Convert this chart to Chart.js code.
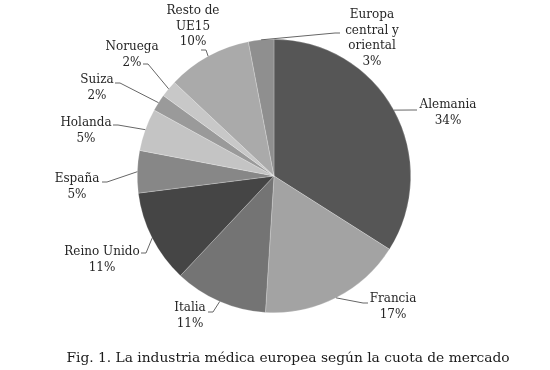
<!DOCTYPE html>
<html>
<head>
<meta charset="utf-8">
<script src="https://cdn.jsdelivr.net/npm/chart.js@4.4.1/dist/chart.umd.min.js"></script>
<style>
  body { margin: 0; background: #fff; }
  #wrap { width: 550px; height: 370px; }
</style>
</head>
<body>
<div id="wrap"><canvas id="pie_chart1"></canvas></div>
<script>
// ข้อมูล
const paises = ['Alemania', 'Francia', 'Italia', 'Reino Unido', 'España', 'Holanda', 'Suiza', 'Noruega', 'Resto de UE15', 'Europa central y oriental'];
const cuotas = [34, 17, 11, 11, 5, 5, 2, 2, 10, 3];
const lineasEtiqueta = [['Alemania'], ['Francia'], ['Italia'], ['Reino Unido'], ['España'], ['Holanda'], ['Suiza'], ['Noruega'], ['Resto de', 'UE15'], ['Europa', 'central y', 'oriental']];
const titulo = 'Fig. 1. La industria médica europea según la cuota de mercado';

// estilo
const colores = ['#565656', '#a3a3a3', '#747474', '#454545', '#878787', '#c4c4c4', '#9a9a9a', '#c8c8c8', '#aaaaaa', '#8f8f8f'];
// posición del texto (centro x, primera línea y) y extremo de la línea guía
const posEtiqueta = [
  { tx: 448, ty: 105, ex: 417, ey: 110, dir: 1 },
  { tx: 393, ty: 299, ex: 368, ey: 303, dir: 1 },
  { tx: 190, ty: 308, ex: 208, ey: 312, dir: -1 },
  { tx: 102, ty: 252, ex: 141, ey: 253, dir: -1 },
  { tx: 77,  ty: 179, ex: 102, ey: 182, dir: -1 },
  { tx: 86,  ty: 123, ex: 113, ey: 125, dir: -1 },
  { tx: 97,  ty: 80,  ex: 115, ey: 83,  dir: -1 },
  { tx: 132, ty: 47,  ex: 143, ey: 64,  dir: -1 },
  { tx: 193, ty: 11,  ex: 201, ey: 50,  dir: -1 },
  { tx: 372, ty: 15,  ex: 340, ey: 33,  dir: 1 }
];
const fuente = "'DejaVu Serif', serif";

const etiquetasPlugin = {
  id: 'etiquetas',
  afterDraw(chart) {
    const ctx = chart.ctx;
    const meta = chart.getDatasetMeta(0);
    ctx.save();
    meta.data.forEach((arc, i) => {
      const p = posEtiqueta[i];
      const mid = (arc.startAngle + arc.endAngle) / 2;
      const sx = arc.x + Math.cos(mid) * arc.outerRadius;
      const sy = arc.y + Math.sin(mid) * arc.outerRadius;
      // línea guía
      ctx.strokeStyle = '#666';
      ctx.lineWidth = 1;
      ctx.beginPath();
      ctx.moveTo(sx, sy);
      ctx.lineTo(p.ex - p.dir * 5, p.ey);
      ctx.lineTo(p.ex, p.ey);
      ctx.stroke();
      // texto
      ctx.fillStyle = '#262626';
      ctx.font = '12px ' + fuente;
      ctx.textAlign = 'center';
      ctx.textBaseline = 'middle';
      const lineas = lineasEtiqueta[i].concat([cuotas[i] + '%']);
      lineas.forEach((t, k) => ctx.fillText(t, p.tx, p.ty + k * 15.5));
    });
    // título
    ctx.font = '13.8px ' + fuente;
    ctx.fillStyle = '#1a1a1a';
    ctx.fillText(titulo, 288, 358);
    ctx.restore();
  }
};

const ctx1 = document.getElementById('pie_chart1').getContext('2d');
const cfg1 = {
  type: 'pie',
  data: {
    labels: paises,
    datasets: [{
      data: cuotas,
      backgroundColor: colores,
      borderColor: 'rgba(255,255,255,0.45)',
      borderWidth: 0.5
    }]
  },
  options: {
    responsive: true,
    maintainAspectRatio: false,
    animation: false,
    layout: { padding: { top: 39, bottom: 57, left: 0, right: 2 } },
    plugins: {
      legend: { display: false },
      tooltip: { enabled: false }
    }
  },
  plugins: [etiquetasPlugin]
};

const pie_chart1 = new Chart(ctx1, cfg1);
</script>
</body>
</html>
